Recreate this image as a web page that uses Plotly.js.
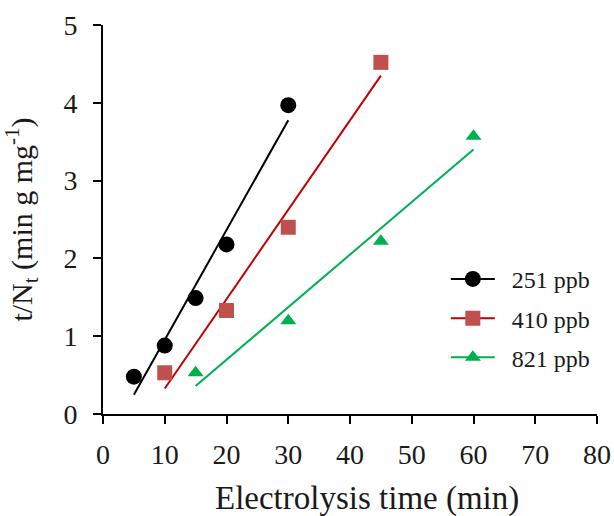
<!DOCTYPE html>
<html>
<head>
<meta charset="utf-8">
<script src="https://cdn.plot.ly/plotly-3.0.1.min.js"></script>
<style>
  html, body { margin: 0; padding: 0; background: #ffffff; }
  #chart { width: 614px; height: 516px; }
</style>
</head>
<body>
<div id="chart"></div>
<script>
// Series labels (initial concentration)
const seriesNames = ['251 ppb', '410 ppb', '821 ppb'];

// Electrolysis time (min) and t/Nt (min g mg^-1) for each concentration
const time251 = [5, 10, 15, 20, 30];
const ratio251 = [0.48, 0.88, 1.49, 2.18, 3.97];

const time410 = [10, 20, 30, 45];
const ratio410 = [0.53, 1.33, 2.40, 4.52];

const time821 = [15, 30, 45, 60];
const ratio821 = [0.53, 1.20, 2.22, 3.57];

// Axis ticks
const xTicks = [0, 10, 20, 30, 40, 50, 60, 70, 80];
const yTicks = [0, 1, 2, 3, 4, 5];

const markerColors = ['#000000', '#C0504D', '#00B050'];
const lineColors = ['#000000', '#C00000', '#00B050'];
const symbols = ['circle', 'square', 'triangle-up'];
const markerSizes = [16, 15, 14];

// Least-squares straight line through a series, drawn over its time span
function linearFit(xs, ys) {
  const n = xs.length;
  const mx = xs.reduce((a, b) => a + b, 0) / n;
  const my = ys.reduce((a, b) => a + b, 0) / n;
  let sxy = 0, sxx = 0;
  for (let i = 0; i < n; i++) {
    sxy += (xs[i] - mx) * (ys[i] - my);
    sxx += (xs[i] - mx) * (xs[i] - mx);
  }
  const slope = sxy / sxx;
  const intercept = my - slope * mx;
  const x0 = Math.min(...xs), x1 = Math.max(...xs);
  return { x: [x0, x1], y: [intercept + slope * x0, intercept + slope * x1] };
}

const series = [
  [time251, ratio251],
  [time410, ratio410],
  [time821, ratio821]
];

const traces = [];
series.forEach(([xs, ys], i) => {
  const fit = linearFit(xs, ys);
  // fitted line (also carries the legend entry: line + marker)
  traces.push({
    type: 'scatter',
    mode: 'lines+markers',
    x: fit.x,
    y: fit.y,
    name: '\u00A0\u00A0' + seriesNames[i],
    legendgroup: 'g' + i,
    line: { color: lineColors[i], width: 2 },
    marker: { symbol: symbols[i], color: markerColors[i], size: markerSizes[i] },
    selectedpoints: [],
    unselected: { marker: { opacity: 0 } },
    hoverinfo: 'skip'
  });
  // measured points
  traces.push({
    type: 'scatter',
    mode: 'markers',
    x: xs,
    y: ys,
    name: seriesNames[i],
    legendgroup: 'g' + i,
    showlegend: false,
    marker: { symbol: symbols[i], color: markerColors[i], size: markerSizes[i], line: { width: 0 } }
  });
});

const serif = 'Liberation Serif, Times New Roman, serif';
const textColor = '#1a1a1a';

const layout = {
  width: 614,
  height: 516,
  margin: { l: 103, r: 17, t: 25, b: 102 },
  paper_bgcolor: '#ffffff',
  plot_bgcolor: '#ffffff',
  font: { family: serif, color: textColor, size: 28 },
  showlegend: true,
  legend: {
    x: 0.694, y: 0.404, xanchor: 'left', yanchor: 'top',
    bgcolor: 'rgba(255,255,255,0)',
    font: { family: serif, size: 24, color: textColor },
    traceorder: 'grouped',
    tracegroupgap: 5,
    itemwidth: 44
  },
  xaxis: {
    range: [0, 80],
    tickvals: xTicks,
    ticktext: xTicks.map(String),
    showgrid: false,
    zeroline: false,
    showline: true,
    linecolor: '#000000',
    linewidth: 2,
    ticks: 'outside',
    ticklen: 8,
    tickwidth: 2,
    tickcolor: '#000000',
    ticklabelstandoff: 6,
    tickfont: { family: serif, size: 28, color: textColor }
  },
  yaxis: {
    range: [0, 5],
    tickvals: yTicks,
    ticktext: yTicks.map(String),
    showgrid: false,
    zeroline: false,
    showline: true,
    linecolor: '#000000',
    linewidth: 2,
    ticks: 'outside',
    ticklen: 8,
    tickwidth: 2,
    tickcolor: '#000000',
    ticklabelstandoff: 10,
    tickfont: { family: serif, size: 28, color: textColor },
    title: { text: 't/N<sub>t</sub> (min g mg<sup>-1</sup>)', font: { family: serif, size: 30, color: textColor }, standoff: 22 }
  },
  annotations: [{
    // x-axis title
    text: 'Electrolysis time (min)',
    xref: 'paper', yref: 'paper',
    x: 0.534, y: -0.2185,
    xanchor: 'center', yanchor: 'middle',
    showarrow: false,
    font: { family: serif, size: 33, color: textColor }
  }]
};

Plotly.newPlot('chart', traces, layout, { displayModeBar: false, staticPlot: true });
</script>
</body>
</html>
